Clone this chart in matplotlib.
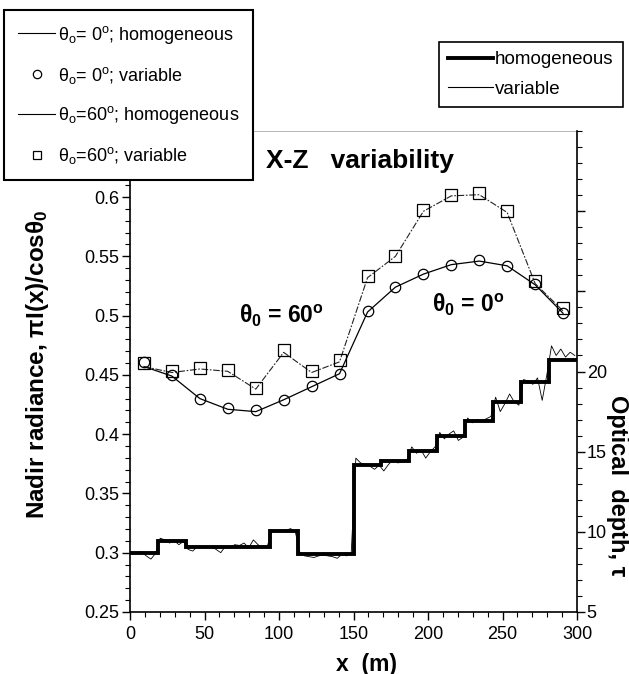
import numpy as np
import matplotlib
matplotlib.use('Agg')
import matplotlib.pyplot as plt
from matplotlib.lines import Line2D
from matplotlib.ticker import MultipleLocator

plt.rcParams['font.family'] = ['Liberation Sans', 'DejaVu Sans']
plt.rcParams['mathtext.fontset'] = 'custom'
plt.rcParams['mathtext.rm'] = 'Liberation Sans'
plt.rcParams['mathtext.it'] = 'Liberation Sans:italic'
plt.rcParams['mathtext.bf'] = 'Liberation Sans:bold'

# ---------------- data ----------------
x_cells = [9.4, 28.1, 46.9, 65.6, 84.4, 103.1, 121.9, 140.6,
           159.4, 178.1, 196.9, 215.6, 234.4, 253.1, 271.9, 290.6]

rad0_hom = [0.457, 0.449, 0.430, 0.421, 0.419, 0.429, 0.440, 0.451,
            0.503, 0.524, 0.535, 0.543, 0.546, 0.542, 0.526, 0.502]
rad0_var = [0.461, 0.450, 0.430, 0.422, 0.420, 0.429, 0.441, 0.451,
            0.504, 0.524, 0.535, 0.543, 0.547, 0.542, 0.527, 0.502]
rad60_hom = [0.457, 0.452, 0.455, 0.453, 0.438, 0.469, 0.452, 0.461,
             0.532, 0.550, 0.588, 0.601, 0.602, 0.587, 0.527, 0.504]
rad60_var = [0.460, 0.453, 0.456, 0.454, 0.439, 0.471, 0.453, 0.4625,
             0.533, 0.550, 0.589, 0.602, 0.6035, 0.588, 0.529, 0.506]

tau_edges = [0, 18.75, 37.5, 56.25, 75, 93.75, 112.5, 131.25, 150,
             168.75, 187.5, 206.25, 225, 243.75, 262.5, 281.25, 300]
tau_hom = [8.65, 9.42, 9.06, 9.06, 9.06, 10.04, 8.59, 8.59,
           14.19, 14.40, 15.06, 15.95, 16.93, 18.09, 19.33, 20.72]

tau_var = [8.6, 8.7, 8.75, 8.5, 8.3, 8.65,
           9.6, 9.5, 9.3, 9.45, 9.2, 9.4,
           8.9, 8.8, 9.1, 9.0, 9.05, 9.1,
           8.9, 8.7, 9.1, 9.0, 9.2, 9.15,
           9.3, 9.0, 9.5, 9.2, 9.0, 9.1,
           10.1, 10.0, 10.05, 10.1, 10.2, 10.0,
           8.7, 8.5, 8.45, 8.4, 8.5, 8.55,
           8.5, 8.45, 8.35, 8.6, 8.5, 8.65,
           14.6, 14.3, 14.2, 14.1, 13.9, 14.15,
           13.8, 14.2, 14.5, 14.3, 14.35, 14.5,
           15.3, 14.9, 15.1, 14.6, 15.0, 15.3,
           16.2, 15.8, 16.1, 16.3, 15.7, 15.9,
           17.1, 16.8, 17.0, 16.9, 17.05, 17.2,
           18.4, 17.5, 18.0, 18.6, 18.1, 17.9,
           19.5, 19.4, 19.2, 19.6, 18.2, 19.8,
           21.6, 21.0, 21.4, 20.9, 21.2, 21.0]

x_ticks = [0, 50, 100, 150, 200, 250, 300]
x_ticklabels = ['0', '50', '100', '150', '200', '250', '300']
y_ticks = [0.25, 0.3, 0.35, 0.4, 0.45, 0.5, 0.55, 0.6]
y_ticklabels = ['0.25', '0.3', '0.35', '0.4', '0.45', '0.5', '0.55', '0.6']
y2_ticks = [5, 10, 15, 20, 25, 30]
y2_ticklabels = ['5', '10', '15', '20', '', '']

legend1_labels = [r'θ$_{\mathrm{o}}$= 0$^{\mathrm{o}}$; homogeneous',
                  r'θ$_{\mathrm{o}}$= 0$^{\mathrm{o}}$; variable',
                  r'θ$_{\mathrm{o}}$=60$^{\mathrm{o}}$; homogeneous',
                  r'θ$_{\mathrm{o}}$=60$^{\mathrm{o}}$; variable']
legend2_labels = ['homogeneous', 'variable']

# ---------------- figure ----------------
fig = plt.figure(figsize=(6.29, 6.74), dpi=100)
ax = fig.add_axes([0.2067, 0.092, 0.7107, 0.7136])
ax2 = ax.twinx()

ax.plot(x_cells, rad0_hom, color='k', lw=0.9, zorder=3)
ax.plot(x_cells, rad0_var, ls='none', marker='o', ms=7.5, mfc='none',
        mec='k', mew=0.9, zorder=4)
ax.plot(x_cells, rad60_hom, color='#222222', lw=0.8, ls=(0, (6, 1.5, 1.5, 1.5)), zorder=3)
ax.plot(x_cells, rad60_var, ls='none', marker='s', ms=8, mfc='none',
        mec='k', mew=0.9, zorder=4)

x_fine = np.linspace(1.5, 298.5, len(tau_var))
ax2.plot(x_fine, tau_var, color='k', lw=0.6)
ax2.stairs(tau_hom, tau_edges, color='k', lw=2.8, baseline=None)

ax.set_xlim(0, 300)
ax.set_ylim(0.25, 0.6557)
ax2.set_ylim(5, 35)

ax.set_xticks(x_ticks)
ax.set_xticklabels(x_ticklabels)
ax.set_yticks(y_ticks)
ax.set_yticklabels(y_ticklabels)
ax.xaxis.set_minor_locator(MultipleLocator(10))
ax.yaxis.set_minor_locator(MultipleLocator(0.01))
ax2.set_yticks(y2_ticks)
ax2.set_yticklabels(y2_ticklabels)
ax2.yaxis.set_minor_locator(MultipleLocator(1))

ax.tick_params(axis='both', which='major', direction='out', length=6, width=1.0,
               labelsize=13, pad=2)
ax.tick_params(axis='x', which='major', pad=4)
ax.tick_params(axis='both', which='minor', direction='out', length=3.5, width=0.8)
ax2.tick_params(axis='y', which='major', direction='out', length=6, width=1.0,
                labelsize=13, pad=1)
ax2.tick_params(axis='y', which='minor', direction='out', length=3.5, width=0.8)

for s in ['left', 'bottom']:
    ax.spines[s].set_linewidth(1.2)
ax.spines['right'].set_visible(False)
ax.spines['top'].set_linewidth(0.6)
ax.spines['top'].set_color('#aaaaaa')
for s in ['left', 'bottom', 'top']:
    ax2.spines[s].set_visible(False)
ax2.spines['right'].set_linewidth(1.2)

ax.text(154.5, 0.6244, 'X-Z   variability', ha='center', va='baseline',
        fontsize=19, fontweight='bold')
ax.text(73.3, 0.4937, r'θ$_{\mathbf{0}}$ = 60$^{\mathbf{o}}$', ha='left',
        va='baseline', fontsize=16.5, fontweight='bold')
ax.text(202.5, 0.5026, r'θ$_{\mathbf{0}}$ = 0$^{\mathbf{o}}$', ha='left',
        va='baseline', fontsize=16.5, fontweight='bold')

fig.text(38/629, 1 - 364/674, r'Nadir radiance, πI(x)/cosθ$_{\mathbf{0}}$',
         rotation=90, ha='center', va='center', fontsize=17.5, fontweight='bold')
fig.text(618/629, 1 - 486/674, 'Optical  depth, τ', rotation=270,
         ha='center', va='center', fontsize=17, fontweight='bold')
fig.text(367/629, 1 - 664/674, 'x  (m)', ha='center', va='center',
         fontsize=16.5, fontweight='bold')

h1 = [Line2D([], [], color='k', lw=0.8),
      Line2D([], [], ls='none', marker='o', ms=6, mfc='none', mec='k', mew=0.9),
      Line2D([], [], color='k', lw=0.8),
      Line2D([], [], ls='none', marker='s', ms=6, mfc='none', mec='k', mew=0.9)]
leg1 = fig.legend(handles=h1, labels=legend1_labels, loc='upper left',
                  bbox_to_anchor=(4/629, 1 - 10/674), frameon=True, fancybox=False,
                  edgecolor='k', framealpha=1, fontsize=13, handlelength=2.1,
                  handletextpad=0.15, labelspacing=1.05, borderpad=0.75,
                  borderaxespad=0)
leg1.get_frame().set_linewidth(1.5)

h2 = [Line2D([], [], color='k', lw=2.8), Line2D([], [], color='k', lw=0.8)]
leg2 = fig.legend(handles=h2, labels=legend2_labels, loc='upper right',
                  bbox_to_anchor=(623/629, 1 - 42/674), frameon=True, fancybox=False,
                  edgecolor='k', framealpha=1, fontsize=13.5, handlelength=2.4,
                  handletextpad=0.1, labelspacing=0.65, borderpad=0.5,
                  borderaxespad=0)
leg2.get_frame().set_linewidth(1.2)

fig.savefig('out.png', dpi=100)
